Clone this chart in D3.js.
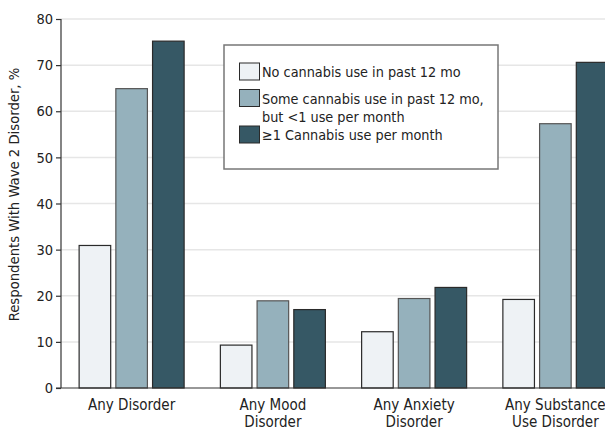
<!DOCTYPE html>
<html>
<head>
<meta charset="utf-8">
<script src="https://cdn.jsdelivr.net/npm/d3@7"></script>
<style>
  body { margin: 0; background: #fff; }
  svg text { font-family: "DejaVu Sans Condensed", "Liberation Sans Narrow", sans-serif; fill: #222; }
  .grid line { stroke: #e6e6e6; stroke-width: 1.5; }
  .axis path, .axis line { stroke: #333; stroke-width: 1.2; }
</style>
</head>
<body>
<div id="chart"></div>
<script>
// Data
const categories = [['Any Disorder'], ['Any Mood', 'Disorder'], ['Any Anxiety', 'Disorder'], ['Any Substance', 'Use Disorder']]
const groups = ['No cannabis use in past 12 mo', 'Some cannabis use in past 12 mo, but <1 use per month', '≥1 Cannabis use per month']
const legendLines = [['No cannabis use in past 12 mo'], ['Some cannabis use in past 12 mo,', 'but <1 use per month'], ['≥1 Cannabis use per month']]
const noUse = [30.9, 9.3, 12.2, 19.2]
const someUse = [64.9, 18.9, 19.4, 57.3]
const monthlyUse = [75.2, 17.0, 21.8, 70.6]
const yTicks = [0, 10, 20, 30, 40, 50, 60, 70, 80]
const colors = ['#eef2f5', '#95b1bc', '#365865']

const series = [noUse, someUse, monthlyUse]

let margin = { top: 19, right: 0, bottom: 43, left: 61 },
    divWidth = 605,
    divHeight = 431,
    height = divHeight - margin.top - margin.bottom

let svg = d3.select('#chart').append('svg')
    .attr('width', divWidth)
    .attr('height', divHeight)

let g = svg.append('g')
    .attr('transform', 'translate(' + margin.left + ',' + margin.top + ')')

// Scales (band range runs past the right edge, as in the original)
let xScale = d3.scaleBand()
    .domain(d3.range(categories.length))
    .range([0, 565])

let xInner = d3.scaleBand()
    .domain(d3.range(groups.length))
    .range([-52.5, 52.5])
    .paddingInner(0.14)

let yScale = d3.scaleLinear()
    .domain([0, 80])
    .range([height, 0])

// Gridlines
g.append('g')
  .attr('class', 'grid')
  .selectAll('line')
  .data(yTicks.filter(d => d > 0))
  .enter().append('line')
  .attr('x1', 0)
  .attr('x2', divWidth)
  .attr('y1', d => yScale(d))
  .attr('y2', d => yScale(d))

// Bars
let catGroups = g.selectAll('.cat')
    .data(categories.map((c, i) => i))
    .enter().append('g')
    .attr('class', 'cat')
    .attr('transform', i => 'translate(' + (xScale(i) + xScale.bandwidth() / 2) + ',0)')

catGroups.selectAll('rect')
  .data(i => series.map((s, j) => ({ j: j, v: s[i] })))
  .enter().append('rect')
  .attr('x', d => xInner(d.j))
  .attr('width', xInner.bandwidth())
  .attr('y', d => yScale(d.v))
  .attr('height', d => height - yScale(d.v))
  .attr('fill', d => colors[d.j])
  .attr('stroke', d => d.j === 1 ? '#555' : '#2a2a2a')
  .attr('stroke-width', 1.2)

// Axes
let yAxis = d3.axisLeft(yScale)
    .tickValues(yTicks)
    .tickSize(5)
    .tickPadding(3)

let yG = g.append('g')
    .attr('class', 'axis axis-y')
    .call(yAxis)
yG.select('.domain').attr('d', 'M0,' + height + 'V0')
yG.selectAll('text').style('font-size', '14.5px')

g.append('line')
  .attr('x1', -5)
  .attr('x2', divWidth)
  .attr('y1', height)
  .attr('y2', height)
  .attr('stroke', '#333')
  .attr('stroke-width', 1.2)

// Category labels
let labels = g.append('g').attr('class', 'axis-x-labels')
categories.forEach((lines, i) => {
  let cx = xScale(i) + xScale.bandwidth() / 2
  let t = labels.append('text')
      .attr('text-anchor', 'middle')
      .attr('x', cx)
      .attr('y', height + 22)
      .style('font-size', '15px')
  lines.forEach((l, k) => {
    t.append('tspan')
      .attr('x', cx)
      .attr('dy', k === 0 ? 0 : 16.5)
      .text(l)
  })
})

// Y axis title
svg.append('text')
  .attr('transform', 'translate(18.5,194.5) rotate(-90)')
  .attr('text-anchor', 'middle')
  .style('font-size', '14.7px')
  .text('Respondents With Wave 2 Disorder, %')

// Legend
let legend = svg.append('g').attr('transform', 'translate(224,45)')
legend.append('rect')
  .attr('width', 274)
  .attr('height', 124)
  .attr('fill', '#fff')
  .attr('stroke', '#777')
  .attr('stroke-width', 1.5)

let legendY = [18, 44.5, 81]
legendLines.forEach((lines, j) => {
  legend.append('rect')
    .attr('x', 15.5)
    .attr('y', legendY[j])
    .attr('width', 20)
    .attr('height', 17)
    .attr('fill', colors[j])
    .attr('stroke', '#2a2a2a')
    .attr('stroke-width', 1)
  let t = legend.append('text')
      .attr('x', 38)
      .attr('y', legendY[j] + 14)
      .style('font-size', '14.3px')
  lines.forEach((l, k) => {
    t.append('tspan')
      .attr('x', 38)
      .attr('dy', k === 0 ? 0 : 18)
      .text(l)
  })
})
</script>
</body>
</html>
